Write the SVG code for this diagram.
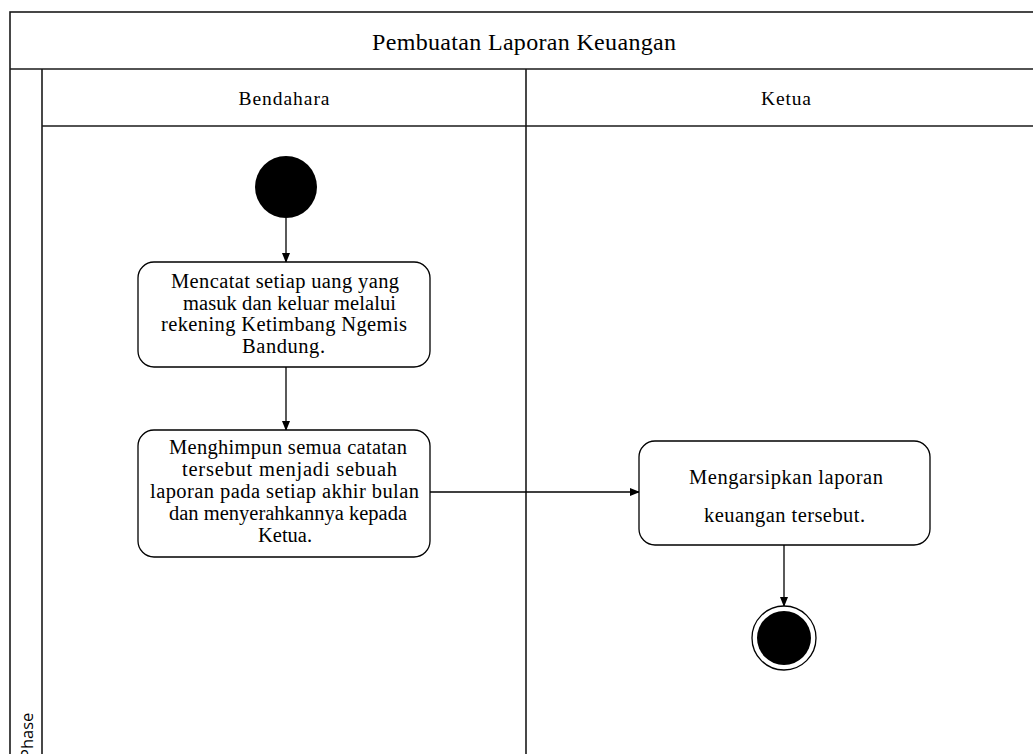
<svg xmlns="http://www.w3.org/2000/svg" width="1033" height="754" viewBox="0 0 1033 754">
  <style>
    .lane { fill: none; stroke: #1a1a1a; stroke-width: 1.6; }
    .act { fill: #fff; stroke: #000; stroke-width: 1.3; }
    .t { font-family: "Liberation Serif", "Times New Roman", serif; font-size: 20.5px; fill: #000; text-anchor: middle; }
    .h { font-family: "Liberation Serif", "Times New Roman", serif; font-size: 19.5px; fill: #000; text-anchor: middle; }
    .title { font-family: "Liberation Serif", "Times New Roman", serif; font-size: 24px; fill: #000; text-anchor: middle; }
    .conn { fill: none; stroke: #000; stroke-width: 1.3; }
  </style>
  <defs>
    <marker id="arrow" markerWidth="10" markerHeight="8" refX="9" refY="4" orient="auto" markerUnits="userSpaceOnUse">
      <path d="M0,0 L10,4 L0,8 Z" fill="#000"/>
    </marker>
  </defs>
  <rect width="1033" height="754" fill="#fff"/>

  <!-- swimlane frame -->
  <g id="pool">
    <rect class="lane" x="10" y="12" width="1040" height="760"/>
    <line class="lane" x1="10" y1="69" x2="1050" y2="69"/>
    <line class="lane" x1="42" y1="69" x2="42" y2="760"/>
    <line class="lane" x1="42" y1="126" x2="1050" y2="126"/>
    <line class="lane" x1="526" y1="69" x2="526" y2="760"/>
    <text class="title" x="524" y="50" textLength="304">Pembuatan Laporan Keuangan</text>
    <text class="h" x="284" y="105" textLength="91">Bendahara</text>
    <text class="h" x="786" y="105" textLength="50">Ketua</text>
    <text x="33" y="759" transform="rotate(-90 33 759)" font-family="Open Sans, Liberation Sans, sans-serif" font-size="16.5" fill="#000">Phase</text>
  </g>

  <!-- connectors -->
  <g id="connectors">
    <line class="conn" x1="286" y1="218" x2="286" y2="262" marker-end="url(#arrow)"/>
    <line class="conn" x1="286" y1="367" x2="286" y2="430" marker-end="url(#arrow)"/>
    <line class="conn" x1="430" y1="492" x2="639" y2="492" marker-end="url(#arrow)"/>
    <line class="conn" x1="784" y1="545" x2="784" y2="606" marker-end="url(#arrow)"/>
  </g>

  <g id="start">
    <circle cx="286" cy="187" r="31" fill="#000"/>
  </g>

  <g id="catat">
    <rect class="act" x="138" y="262" width="292" height="105" rx="16"/>
    <text class="t" x="285" y="288" textLength="228">Mencatat setiap uang yang</text>
    <text class="t" x="289.5" y="309.5" textLength="213">masuk dan keluar melalui</text>
    <text class="t" x="284" y="331" textLength="246">rekening Ketimbang Ngemis</text>
    <text class="t" x="283.5" y="352.5" textLength="83">Bandung.</text>
  </g>

  <g id="himpun">
    <rect class="act" x="138" y="430" width="292" height="127" rx="16"/>
    <text class="t" x="288" y="454" textLength="238">Menghimpun semua catatan</text>
    <text class="t" x="289.5" y="476" textLength="215">tersebut menjadi sebuah</text>
    <text class="t" x="284.5" y="498" textLength="269">laporan pada setiap akhir bulan</text>
    <text class="t" x="288" y="520" textLength="238">dan menyerahkannya kepada</text>
    <text class="t" x="285" y="542" textLength="54">Ketua.</text>
  </g>

  <g id="arsip">
    <rect class="act" x="639" y="441" width="291" height="104" rx="16"/>
    <text class="t" x="786" y="484" textLength="194">Mengarsipkan laporan</text>
    <text class="t" x="784.5" y="522" textLength="161">keuangan tersebut.</text>
  </g>

  <g id="end">
    <circle cx="784" cy="638" r="32" fill="#fff" stroke="#000" stroke-width="1.3"/>
    <circle cx="784" cy="638" r="27" fill="#000"/>
  </g>
</svg>
